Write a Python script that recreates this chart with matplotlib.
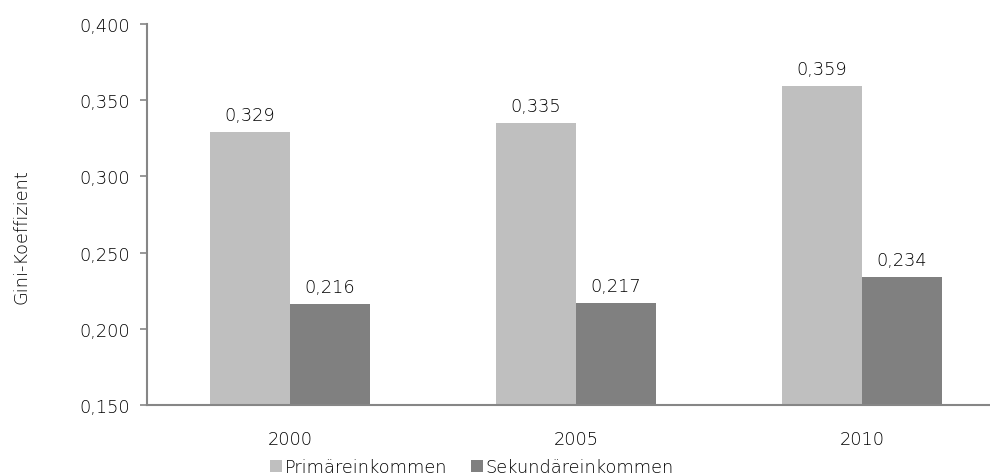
import matplotlib
matplotlib.use("Agg")
import matplotlib.pyplot as plt
import numpy as np

years = ["2000", "2005", "2010"]
primaer = [0.329, 0.335, 0.359]
sekundaer = [0.216, 0.217, 0.234]
series_names = ["Primäreinkommen", "Sekundäreinkommen"]
y_ticks = [0.150, 0.200, 0.250, 0.300, 0.350, 0.400]

plt.rcParams["font.family"] = ["DejaVu Sans"]
plt.rcParams["font.weight"] = "light"
text_color = "#000000"
axis_color = "#868686"
fs = 12.8

W, H = 990, 477
fig = plt.figure(figsize=(W / 100, H / 100), dpi=100)
# axes box in pixel terms: left 147, right 1005 (runs past the edge), top 25, bottom 406
ax = fig.add_axes([147 / W, 1 - 406 / H, (1005 - 147) / W, (406 - 25) / H])

x = np.arange(len(years))
bw = 0.28
b1 = ax.bar(x - bw / 2, primaer, bw, color="#BFBFBF", label=series_names[0], zorder=2)
b2 = ax.bar(x + bw / 2, sekundaer, bw, color="#808080", label=series_names[1], zorder=2)

def fmt(v):
    return f"{v:.3f}".replace(".", ",")

for bars, vals in ((b1, primaer), (b2, sekundaer)):
    for rect, v in zip(bars, vals):
        ax.annotate(fmt(v), (rect.get_x() + rect.get_width() / 2, v),
                    xytext=(0, 6), textcoords="offset points",
                    ha="center", va="bottom", fontsize=fs, color=text_color)

ax.set_xlim(-0.5, len(years) - 0.5)
ax.set_ylim(0.150, 0.400)
ax.set_yticks(y_ticks)
ax.set_yticklabels([fmt(t) for t in y_ticks], fontsize=fs, color=text_color)
ax.set_xticks(x)
ax.set_xticklabels(years, fontsize=fs, color=text_color)
ax.tick_params(axis="x", length=0, pad=18)
ax.tick_params(axis="y", length=5, width=1.2, color=axis_color, pad=7)

for s in ("top", "right"):
    ax.spines[s].set_visible(False)
for s in ("left", "bottom"):
    ax.spines[s].set_color(axis_color)
    ax.spines[s].set_linewidth(1.5)

fig.text(22 / W, 1 - 237 / H, "Gini-Koeffizient", rotation=90, ha="center", va="center",
         fontsize=fs, color=text_color)

handles = [b1, b2]
leg = fig.legend(handles, series_names, loc="center", bbox_to_anchor=(472 / W, 1 - 468 / H),
                 ncol=2, frameon=False, fontsize=fs, handlelength=0.7, handleheight=0.7,
                 handletextpad=0.15, columnspacing=1.3, borderaxespad=0)
for t in leg.get_texts():
    t.set_color(text_color)

fig.savefig("out.png", dpi=100)
